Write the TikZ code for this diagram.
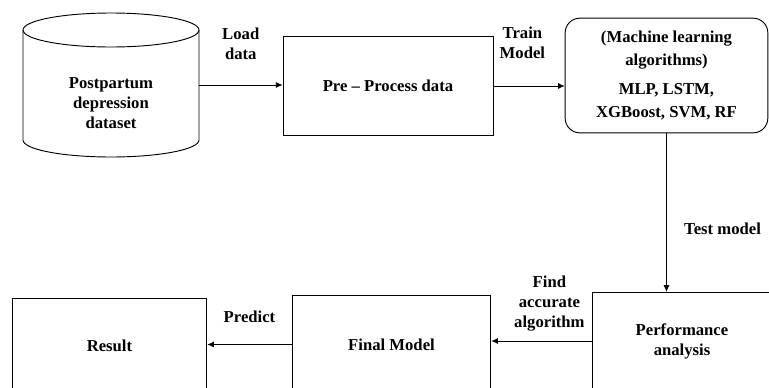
\documentclass[tikz,border=0pt]{standalone}
\usepackage{fontspec}
\setmainfont{Liberation Serif}
\usetikzlibrary{arrows.meta}

\tikzset{
  box/.style={draw, line width=0.7pt, align=center},
  flow/.style={-{Latex[length=5pt,width=4.5pt]}, line width=0.6pt},
  lbl/.style={align=center, inner sep=1pt},
}

\begin{document}
\begin{tikzpicture}[x=0.75pt,y=-0.75pt,font=\fontsize{12.5}{15}\selectfont\bfseries]
  \useasboundingbox (0,0) rectangle (769,387);
  \clip (0,0) rectangle (769,387);
  % dataset cylinder
  \draw[line width=0.7pt] (111,30) ellipse [x radius=88, y radius=17];
  \draw[line width=0.7pt] (23,30) -- (23,140) arc[start angle=180, end angle=0, x radius=88, y radius=17] -- (199,30);
  \node[lbl] (data) at (111,103) {Postpartum\\depression\\dataset};
  \coordinate (data-r) at (199,85);
  % top row
  \node[box, minimum width=157.5pt, minimum height=74.25pt] (pre) at (388,86) {Pre -- Process data};
  \node[box, rounded corners=11pt, minimum width=152pt, minimum height=86pt,
        font=\fontsize{12.5}{17}\selectfont\bfseries] (ml) at (666.5,75.5)
        {(Machine learning\\algorithms)\\[5pt]MLP, LSTM,\\XGBoost, SVM, RF};
  % bottom row
  \node[box, minimum width=135pt, minimum height=73pt] (perf) at (682,341) {Performance\\analysis};
  \node[box, minimum width=149pt, minimum height=73pt] (final) at (391.5,344.5) {Final Model};
  \node[box, minimum width=146pt, minimum height=72pt] (res) at (109.5,346) {Result};

  \draw[flow] (data-r) -- (data-r -| pre.west)
    node[lbl, midway, above=18pt] {Load\\data};
  \draw[flow] (pre.east) -- (pre.east -| ml.west)
    node[lbl, midway, above=19pt, xshift=-5pt] {Train\\Model};
  \draw[flow] (ml.south) -- (ml.south |- perf.north)
    node[lbl, pos=0.6, right=12pt] {Test model};
  \draw[flow] (perf.west) -- (perf.west -| final.east)
    node[lbl, midway, above=6pt, xshift=6pt] {Find\\accurate\\algorithm};
  \draw[flow] (final.west) -- (final.west -| res.east)
    node[lbl, midway, above=15pt] {Predict};
\end{tikzpicture}
\end{document}
